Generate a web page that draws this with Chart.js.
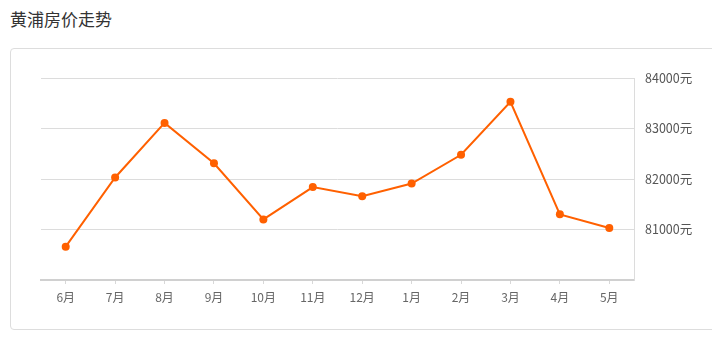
<!DOCTYPE html>
<html>
<head>
<meta charset="utf-8">
<script src="https://cdn.jsdelivr.net/npm/chart.js@4/dist/chart.umd.min.js"></script>
<style>
  html, body { margin: 0; padding: 0; background: #fff; width: 712px; height: 340px; overflow: hidden; }
  .title { position: absolute; left: 10px; top: 7px; font: 17px "Noto Sans CJK SC", sans-serif; color: #333; line-height: 24px; }
  .card { position: absolute; left: 10px; top: 48px; width: 720px; height: 282px; border: 1px solid #ddd; border-radius: 4px; box-sizing: border-box; }
  #priceChart { position: absolute; left: 0; top: 0; }
</style>
</head>
<body>
<div class="title">黄浦房价走势</div>
<div class="card"></div>
<canvas id="priceChart" width="712" height="340"></canvas>
<script>
// months and average price (元/平米)
const months = ['6月', '7月', '8月', '9月', '10月', '11月', '12月', '1月', '2月', '3月', '4月', '5月'];
const prices = [80660, 82030, 83110, 82310, 81200, 81840, 81660, 81910, 82480, 83530, 81300, 81030];
const yMin = 80000;
const yMax = 84000;
const yStep = 1000;

const ctx = document.getElementById('priceChart').getContext('2d');
new Chart(ctx, {
  type: 'line',
  data: {
    labels: months,
    datasets: [
      {
        label: '黄浦',
        data: prices,
        borderColor: '#ff6000',
        backgroundColor: '#ff6000',
        borderWidth: 2,
        pointRadius: 4,
        pointBorderWidth: 0,
        pointHoverRadius: 5,
        tension: 0,
        fill: false,
      },
    ],
  },
  options: {
    responsive: false,
    animation: false,
    layout: { padding: { left: 41, top: 78, right: 0, bottom: 0 } },
    plugins: {
      legend: { display: false },
      tooltip: { enabled: false },
    },
    scales: {
      x: {
        offset: true,
        grid: { drawOnChartArea: false, drawTicks: true, tickLength: 4, color: '#d8d8d8' },
        border: { color: '#d0d0d0', width: 2 },
        ticks: {
          color: '#666',
          padding: 6,
          maxRotation: 0,
          font: { family: '"Noto Sans CJK SC", sans-serif', size: 12 },
        },
        afterFit: function (scale) { scale.height = 60; },
      },
      y: {
        position: 'right',
        min: yMin,
        max: yMax,
        grid: { color: '#dcdcdc', drawTicks: false },
        border: { color: '#dcdcdc', width: 1 },
        ticks: {
          stepSize: yStep,
          padding: 11,
          color: '#555',
          font: { family: '"Noto Sans CJK SC", sans-serif', size: 12.5 },
          callback: function (value) {
            if (value === yMin) return '';
            return value + '元';
          },
        },
        afterFit: function (scale) { scale.width = 78; },
      },
    },
  },
});
</script>
</body>
</html>
